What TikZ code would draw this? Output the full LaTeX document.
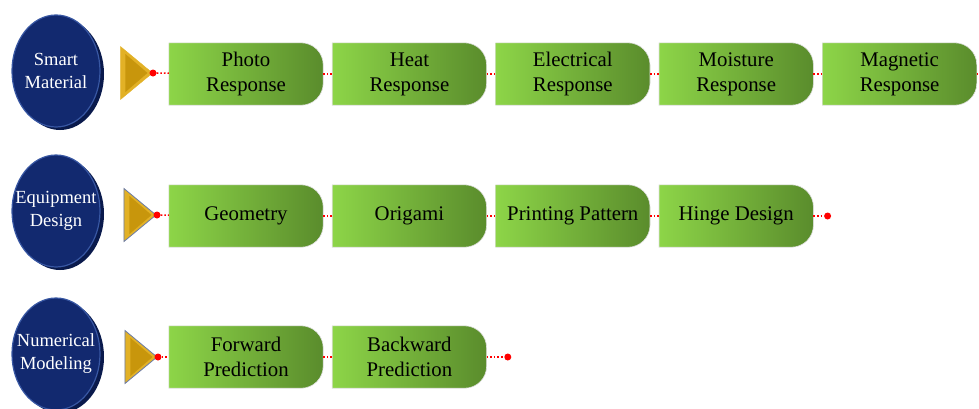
\documentclass[tikz,border=0pt]{standalone}
\usepackage{fontspec}
\setmainfont{Liberation Serif}
\usetikzlibrary{positioning,shapes.geometric,backgrounds}

\definecolor{navy}{HTML}{12296F}
\definecolor{navyrim}{HTML}{3857A3}
\definecolor{navyshadow}{HTML}{0A1A4C}
\definecolor{goldlight}{HTML}{E2B126}
\definecolor{golddark}{HTML}{C8960C}
\definecolor{slateedge}{HTML}{6B7CA8}
\definecolor{greenlight}{HTML}{8DD548}
\definecolor{greendark}{HTML}{5A8C2C}

\begin{document}
\begin{tikzpicture}[x=1pt, y=-1pt, node distance=9pt,
    resp/.style = {minimum width=154pt, minimum height=62pt, inner sep=0pt, align=center, font=\fontsize{20.8}{25}\selectfont},
    disk/.style = {ellipse, fill=navy, draw=navyrim, line width=1.2pt, minimum width=88pt, minimum height=112pt, inner sep=-10pt, align=center, text=white, font=\fontsize{18.5}{23}\selectfont},
    tri/.style = {isosceles triangle, isosceles triangle stretches, shape border rotate=0, minimum height=32pt, minimum width=53pt, inner sep=0pt, fill=goldlight, anchor=apex},
    trin/.style = {isosceles triangle, isosceles triangle stretches, shape border rotate=0, minimum height=22pt, minimum width=38pt, inner sep=0pt, fill=golddark, anchor=apex},
    reddot/.style = {circle, fill=red, minimum size=7pt, inner sep=0pt},
    link/.style = {red, line width=1.6pt, dash pattern=on 1.6pt off 2pt}]
    \useasboundingbox (0,0) rectangle (979,408);

    % row 1
    \node[disk] (sm) at (56,71) {Smart\\Material};
    \node[tri, draw=goldlight] (t1) at (153,73) {};
    \node[trin] (t1i) at (148,73) {};
    \node[reddot] (d1) at (t1.apex) {};
    \node[resp] (p1) at (246,74) {Photo\\Response};
    \node[resp] (p2) [right=of p1] {Heat\\Response};
    \node[resp] (p3) [right=of p2] {Electrical\\Response};
    \node[resp] (p4) [right=of p3] {Moisture\\Response};
    \node[resp] (p5) [right=of p4] {Magnetic\\Response};
    \node[reddot] (e1) [right=2.5pt of p5] {};

    % row 2
    \node[disk] (ed) at (56,211) {Equipment\\Design};
    \node[tri, draw=slateedge, line width=0.8pt] (t2) at (157,215) {};
    \node[trin] (t2i) at (152,215) {};
    \node[reddot] (d2) at (t2.apex) {};
    \node[resp] (g1) at (246,216) {Geometry};
    \node[resp] (g2) [right=of g1] {Origami};
    \node[resp] (g3) [right=of g2] {Printing Pattern};
    \node[resp] (g4) [right=of g3] {Hinge Design};
    \node[reddot] (e2) [right=10.5pt of g4] {};

    % row 3
    \node[disk] (nm) at (56,354) {Numerical\\Modeling};
    \node[tri, draw=slateedge, line width=0.8pt] (t3) at (158,357) {};
    \node[trin] (t3i) at (153,357) {};
    \node[reddot] (d3) at (t3.apex) {};
    \node[resp] (f1) at (246,357) {Forward\\Prediction};
    \node[resp] (f2) [right=of f1] {Backward\\Prediction};
    \node[reddot] (e3) [right=17.5pt of f2] {};

    \draw[link] (d1) -- (p1);
    \draw[link] (p1) -- (p2);
    \draw[link] (p2) -- (p3);
    \draw[link] (p3) -- (p4);
    \draw[link] (p4) -- (p5);
    \draw[link] (p5) -- (e1);

    \draw[link] (d2) -- (g1);
    \draw[link] (g1) -- (g2);
    \draw[link] (g2) -- (g3);
    \draw[link] (g3) -- (g4);
    \draw[link] (g4) -- (e2);

    \draw[link] (d3) -- (f1);
    \draw[link] (f1) -- (f2);
    \draw[link] (f2) -- (e3);

    \begin{scope}[on background layer]
        \foreach \n in {sm,ed,nm}
            \fill[navyshadow] ([xshift=4pt,yshift=-3pt]\n.center) ellipse [x radius=44pt, y radius=56pt];
        \foreach \n in {p1,p2,p3,p4,p5,g1,g2,g3,g4,f1,f2}
            \shadedraw[left color=greenlight, right color=greendark, draw=black!12, line width=0.6pt]
                (\n.south west) -- (\n.north west) [rounded corners=22pt] -- (\n.north east) -- (\n.south east) [sharp corners] -- cycle;
    \end{scope}
\end{tikzpicture}
\end{document}
